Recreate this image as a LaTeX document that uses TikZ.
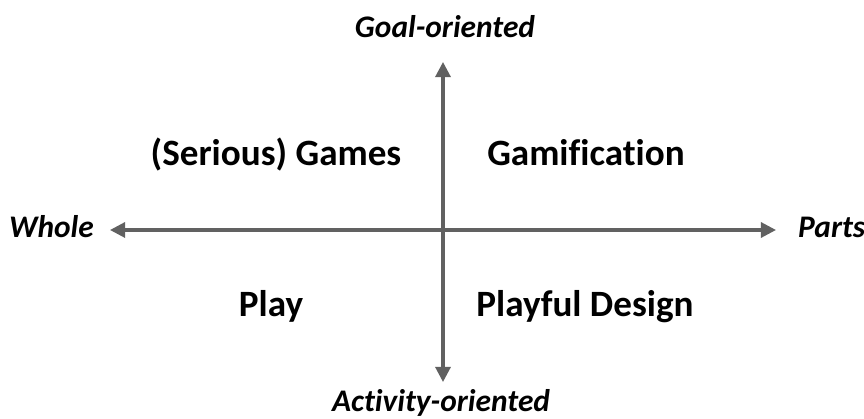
\documentclass[tikz,border=0pt]{standalone}
\usepackage{fontspec}
\setmainfont[Ligatures=NoCommon]{Carlito}
\usetikzlibrary{arrows.meta}
\tikzset{
  axis/.style={line width=2.6pt, draw=black!62, -{Triangle[length=13pt,width=13pt]}},
  quad/.style={anchor=base, font=\bfseries\fontsize{31.7}{34}\selectfont},
  pole/.style={font=\bfseries\itshape\fontsize{26.8}{30}\selectfont}
}
\begin{document}
\begin{tikzpicture}[x=0.03cm,y=0.03cm]
\useasboundingbox (0,0) rectangle (864,419);
% axis ends
\coordinate (c) at (443,189);
\coordinate (w) at (110,189);
\coordinate (p) at (776,189);
\coordinate (g) at (443,357);
\coordinate (a) at (443,37);
\draw [axis] (c) -- (w);
\draw [axis] (c) -- (p);
\draw [axis] (c) -- (g);
\draw [axis] (c) -- (a);
% poles
\node [pole, anchor=base east] (whole) at (98,181) {Whole};
\node [pole, anchor=base west] (parts) at (794,181) {Parts};
\node [pole, anchor=base] (goal) at (445,381) {Goal-oriented};
\node [pole, anchor=base] (activity) at (441,7) {Activity-oriented};
% quadrants
\node [quad] (games) at (276,253) {(Serious) Games};
\node [quad] (gamif) at (586,253) {Gamification};
\node [quad] (play) at (271,102) {Play};
\node [quad] (design) at (585,102) {Playful Design};
\end{tikzpicture}
\end{document}
